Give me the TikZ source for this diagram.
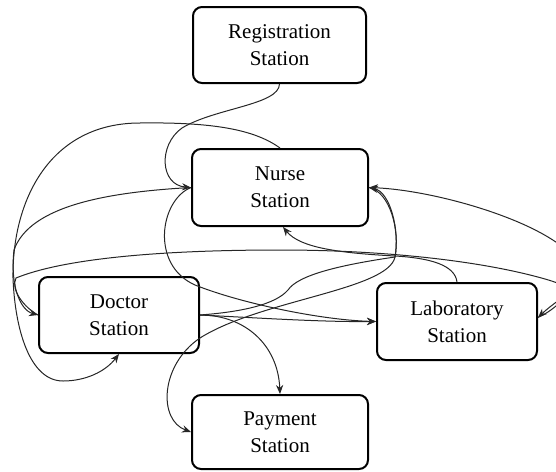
\documentclass[tikz,border=0pt]{standalone}
\usepackage{fontspec}
\setmainfont{Liberation Serif}
\usetikzlibrary{arrows.meta}
\begin{document}
\begin{tikzpicture}[x=0.5pt,y=-0.5pt,
  station/.style={draw, line width=1pt, rounded corners=4.5pt, align=center,
    inner sep=0pt, font=\fontsize{10.5}{13.5}\selectfont},
  flow/.style={line width=0.5pt, draw=black!85},
  tip/.style={-{Stealth[length=4.5pt,width=3.6pt]}}]
\useasboundingbox (0,0) rectangle (556,471);
\clip (0,0) rectangle (556,471);

% stations
\node[station, minimum width=86.5pt, minimum height=38pt]   (reg)    at (279.5,45)  {Registration\\Station};
\node[station, minimum width=88pt,   minimum height=38.5pt] (nurse)  at (280,187.5) {Nurse\\Station};
\node[station, minimum width=80pt,   minimum height=38pt]   (doctor) at (119,315)   {Doctor\\Station};
\node[station, minimum width=80pt,   minimum height=38.5pt] (lab)    at (457,321.5) {Laboratory\\Station};
\node[station, minimum width=88pt,   minimum height=37pt]   (pay)    at (280,432)   {Payment\\Station};

% registration -> nurse
\draw[flow, tip] (reg.south) .. controls (279,105) and (215,108) .. (182,128)
  .. controls (158,145) and (160,185) .. (nurse.west);

% nurse -> doctor, around the left side into the bottom of the doctor box
\draw[flow, tip] (nurse.north) .. controls (255,130) and (215,122) .. (140,123)
  .. controls (50,123) and (12,200) .. (13,278)
  .. controls (15,330) and (30,381) .. (63,381)
  .. controls (85,381) and (105,372) .. (doctor.south);

% nurse -> doctor, into the left side
\draw[flow, tip] (nurse.west) .. controls (110,192) and (30,205) .. (14,250)
  .. controls (10,285) and (20,310) .. (doctor.west);

% doctor -> laboratory, the long sweep over the top
\draw[flow, tip] (doctor.west) .. controls (25,308) and (10,290) .. (16,278)
  .. controls (60,260) and (150,250) .. (280,250)
  .. controls (380,250) and (470,260) .. (530,275)
  .. controls (590,290) and (565,292) .. ([yshift=2pt]lab.east);

% laboratory -> nurse, round the right side
\draw[flow, tip] ([yshift=2pt]lab.east) .. controls (575,300) and (585,265) .. (560,245)
  .. controls (520,215) and (430,190) .. (nurse.east);

% laboratory -> nurse, from the top of the laboratory box
\draw[flow, tip] (lab.north) .. controls (455,265) and (430,258) .. (395,256)
  .. controls (340,253) and (300,248) .. ([xshift=1.5pt]nurse.south);

% nurse -> payment
\draw[flow, tip] (nurse.east) .. controls (390,192) and (400,230) .. (395,257)
  .. controls (388,290) and (260,300) .. (200,338)
  .. controls (160,365) and (158,420) .. (pay.west);

% doctor -> nurse
\draw[flow, tip] (doctor.east) .. controls (240,312) and (275,305) .. (288,290)
  .. controls (298,275) and (340,265) .. (395,257)
  .. controls (400,230) and (390,192) .. (nurse.east);

% doctor -> laboratory
\draw[flow, tip] (doctor.east) .. controls (260,318) and (320,322) .. (lab.west);

% doctor -> payment
\draw[flow, tip] (doctor.east) .. controls (245,315) and (278,345) .. (pay.north);

% nurse -> laboratory
\draw[flow, tip] (nurse.west) .. controls (160,200) and (150,265) .. (195,285)
  .. controls (240,303) and (320,320) .. (lab.west);
\end{tikzpicture}
\end{document}
